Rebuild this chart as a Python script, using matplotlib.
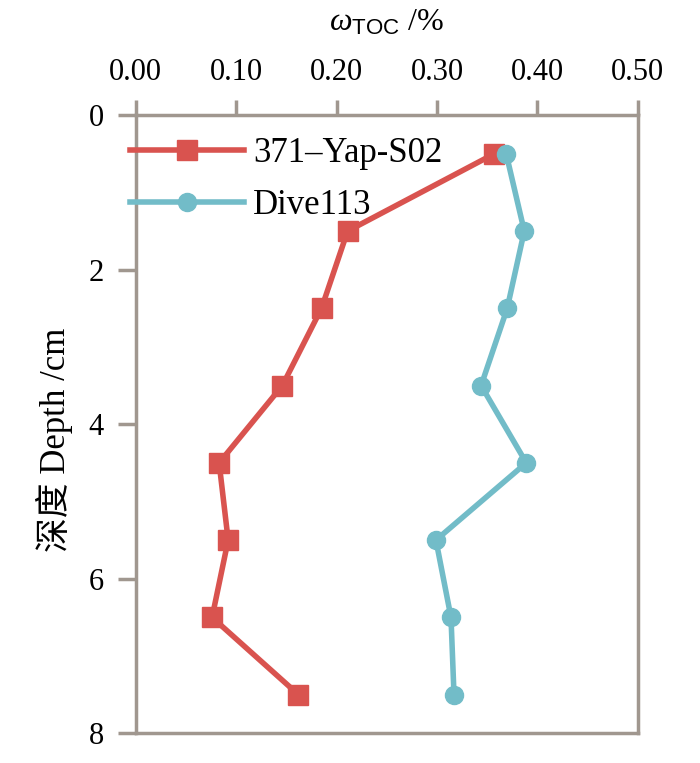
import matplotlib
matplotlib.use('Agg')
import matplotlib.pyplot as plt

plt.rcParams['font.family'] = ['Liberation Serif', 'Noto Sans CJK SC']
plt.rcParams['mathtext.fontset'] = 'custom'
plt.rcParams['mathtext.rm'] = 'Liberation Serif'
plt.rcParams['mathtext.it'] = 'Liberation Serif:italic'
plt.rcParams['mathtext.sf'] = 'Liberation Sans'

# Дані
depth = [0.5, 1.5, 2.5, 3.5, 4.5, 5.5, 6.5, 7.5]
toc_yap = [0.357, 0.211, 0.185, 0.146, 0.083, 0.092, 0.076, 0.162]
toc_dive = [0.369, 0.387, 0.370, 0.344, 0.389, 0.299, 0.314, 0.317]
x_ticks = [0.0, 0.1, 0.2, 0.3, 0.4, 0.5]
y_ticks = [0, 2, 4, 6, 8]

red = '#d9534f'
teal = '#72bcc8'
grey = '#a0978f'

fig = plt.figure(figsize=(7, 7.63), dpi=100)
ax = fig.add_axes([0.194, 0.039, 0.717, 0.810])

ax.plot(toc_yap, depth, color=red, lw=4, marker='s', ms=14,
        label='371–Yap-S02')
ax.plot(toc_dive, depth, color=teal, lw=4, marker='o', ms=13,
        label='Dive113')

ax.set_xlim(0, 0.5)
ax.set_ylim(8, 0)
ax.set_xticks(x_ticks)
ax.set_xticklabels(['%.2f' % v for v in x_ticks])
ax.set_yticks(y_ticks)

ax.xaxis.tick_top()
ax.xaxis.set_label_position('top')
ax.tick_params(axis='both', direction='out', length=11, width=2.5,
               color=grey, labelsize=22, pad=9)
ax.tick_params(axis='y', length=13, pad=10)
for s in ax.spines.values():
    s.set_color(grey)
    s.set_linewidth(2.5)

ax.set_xlabel(r'$\omega_{\mathsf{TOC}}$ /%', fontsize=23, labelpad=20)
ax.set_ylabel('深度 Depth /cm', fontsize=25)
ax.yaxis.set_label_coords(-0.125, 0.475)

ax.legend(loc='upper left', bbox_to_anchor=(-0.012, 0.965), frameon=False,
          fontsize=25, handlelength=3.3, handletextpad=0.25,
          labelspacing=0.55, borderpad=0, borderaxespad=0)

fig.savefig('out.png', dpi=100)
